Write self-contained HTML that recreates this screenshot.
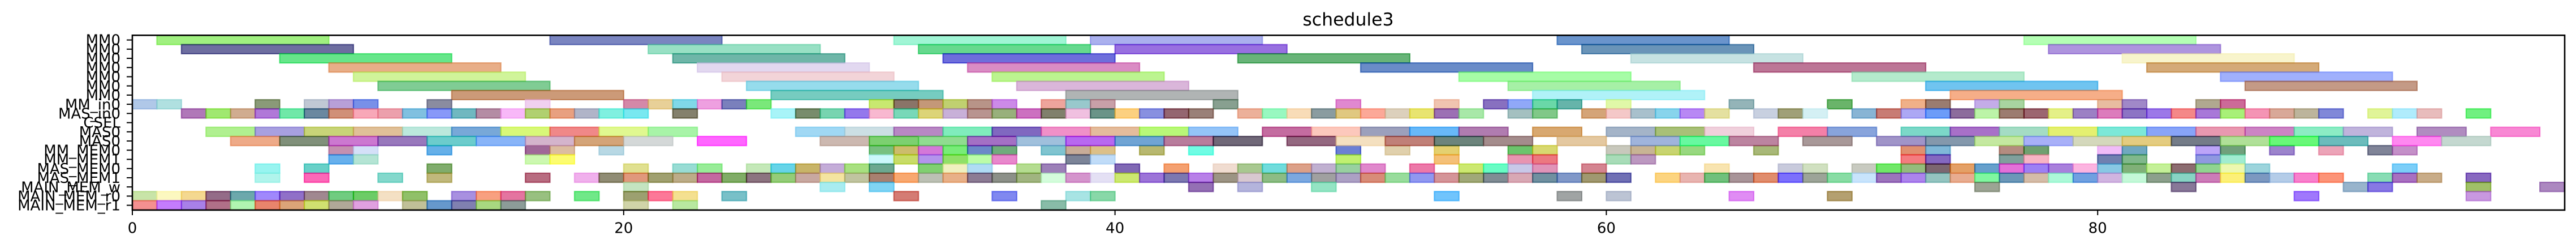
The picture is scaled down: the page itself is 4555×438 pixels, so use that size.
<!DOCTYPE html>
<html><head><meta charset="utf-8"><style>
html,body{margin:0;padding:0;background:#fff;width:4555px;height:438px;overflow:hidden}
svg{display:block}
text{font-family:"DejaVu Sans","Liberation Sans",sans-serif;fill:#000}
</style></head><body>
<svg id="s" width="4555" height="438" viewBox="0 0 4555 438" xmlns="http://www.w3.org/2000/svg">
<text x="2384" y="45" font-size="31.5" text-anchor="middle">schedule3</text>
<g id="bars" transform="translate(234,62.5) scale(43.44,16.22)"></g>
<rect x="234" y="62.3" width="4301" height="308.7" fill="none" stroke="#000" stroke-width="2.6"/>
<g stroke="#000" stroke-width="2">
<line x1="234" y1="371" x2="234" y2="380"/><line x1="1102.8" y1="371" x2="1102.8" y2="380"/><line x1="1971.6" y1="371" x2="1971.6" y2="380"/><line x1="2840.4" y1="371" x2="2840.4" y2="380"/><line x1="3709.2" y1="371" x2="3709.2" y2="380"/>
</g>
<g font-size="26" text-anchor="middle">
<text x="234" y="411.5">0</text><text x="1102.8" y="411.5">20</text><text x="1971.6" y="411.5">40</text><text x="2840.4" y="411.5">60</text><text x="3709.2" y="411.5">80</text>
</g>
<g id="yt" stroke="#000" stroke-width="2"></g>
<g font-size="26" text-anchor="end">
<text x="213" y="79.7">MM0</text>
<text x="213" y="95.9">MM0</text>
<text x="213" y="112.1">MM0</text>
<text x="213" y="128.4">MM0</text>
<text x="213" y="144.6">MM0</text>
<text x="213" y="160.8">MM0</text>
<text x="213" y="177.0">MM0</text>
<text x="213" y="193.3">MM_in0</text>
<text x="213" y="209.5">MAS_in0</text>
<text x="213" y="225.7">CSEL</text>
<text x="213" y="241.9">MAS0</text>
<text x="213" y="258.2">MAS0</text>
<text x="213" y="274.4">MM_MEM0</text>
<text x="213" y="290.6">MM_MEM1</text>
<text x="213" y="306.8">MAS_MEM0</text>
<text x="213" y="323.1">MAS_MEM1</text>
<text x="213" y="339.3">MAIN_MEM_w</text>
<text x="213" y="355.5">MAIN_MEM_r0</text>
<text x="213" y="371.7">MAIN_MEM_r1</text>
</g>
</svg>
<script>
var L={
0:[[1,7,'a0f080'],[17,7,'7a85c0'],[31,7,'a0f5d5'],[39,7,'aab0ee'],[58,7,'6a94cc'],[77,7,'b4ffb4']],
1:[[2,7,'6e6ea0'],[21,7,'98e0c4'],[32,7,'66d98e'],[40,7,'9870e0'],[59,7,'6a94b8'],[78,7,'ae94de']],
2:[[6,7,'66e68a'],[22,7,'6eb6a8'],[33,7,'6e6edc'],[45,7,'68b478'],[61,7,'c6e2e2'],[81,7,'f8f4cc']],
3:[[8,7,'e8ae88'],[23,7,'e2d8f0'],[34,7,'da8cc4'],[50,7,'6a8cc8'],[66,7,'bc7696'],[82,7,'d4aa78']],
4:[[9,7,'d0f49a'],[24,7,'f2d4d8'],[35,7,'bcf490'],[54,7,'a6fca6'],[70,7,'b4eacc'],[85,7,'a0b0fc']],
5:[[10,7,'80cc94'],[25,7,'96dcec'],[36,7,'dab6da'],[56,7,'a6f0a6'],[73,7,'70c4f0'],[86,7,'c49a86']],
6:[[13,7,'cc9a78'],[26,7,'76ccc0'],[38,7,'b0b4b4'],[57,7,'b0f2f8'],[74,7,'f6ae88']]
};
var S={
7:{0:'b0c8e8',1:'b0e0e0',5:'8a9a78',7:'c0c8d4',8:'b8a0d8',9:'7890e8',12:'8a8ca0',16:'f0d0f0',20:'d488a8',21:'e8d098',22:'80d8e8',23:'eea0e0',24:'7a80bc',25:'7ae87a',30:'c8e870',31:'8a7468',32:'c49878',33:'c0d070',34:'b89488',35:'cc8ae8',37:'eea49c',38:'98c8cc',39:'c8a0a8',44:'88a090',49:'e088d0',53:'f0c4b0',55:'8870c0',56:'90a8f8',57:'6ad8a8',58:'66b4aa',60:'e0f8a8',65:'94b4b8',69:'6ab46a',72:'f0b088',73:'9a7c70',75:'c4ace8',76:'a8d4a0',80:'e8bca0',81:'a088c8',84:'b0a890',85:'cc6a98'},
8:{2:'b078b8',3:'a0e870',4:'d0ac90',5:'b078d8',6:'70e8a8',7:'6a88a0',8:'d09078',9:'f8a8b8',10:'eca0ac',11:'80c0e0',12:'8898f8',13:'70b8c0',14:'b48ca4',15:'f8b8f8',16:'b0d070',17:'e8a080',18:'b0b4c8',19:'80f0e0',20:'78e8f0',22:'84806c',26:'a8f4f8',27:'788c6c',28:'78d4b0',29:'9478ec',30:'f8b8d0',31:'78d8b8',32:'dcd478',33:'c8b0d8',34:'b89490',35:'98b07c',36:'cc70c0',37:'80806c',38:'f0c0e0',39:'6a9488',40:'fcd080',41:'8890e0',42:'946470',43:'9a8078',45:'ecb09a',46:'98f8c0',47:'f8dcb8',48:'8a9ca0',49:'e0c880',50:'fca898',51:'dcd0bc',52:'e8e470',53:'9c70b4',54:'a8e8a8',56:'a4c0c0',57:'80c888',59:'d4a478',60:'f4c8c8',61:'a8c0cc',62:'88d4ec',63:'b888f4',64:'e4e0a0',66:'c8d0e0',67:'a0a078',68:'d4f0f4',70:'88b4d4',71:'c87c74',72:'aca8f4',73:'6c9cf8',74:'8c6c9c',75:'bcf4a8',76:'9c7c70',77:'9c6470',78:'e4f088',79:'9c80c4',80:'dc7cbc',81:'8c74c4',82:'9c78e8',83:'f48888',84:'a878d8',85:'a8f078',86:'f494b4',87:'d8a898',88:'bcb49c',89:'8088d8',91:'e0f498',92:'b0ecfc',93:'e8bcbc',95:'70f080'},
12:{8:'c490b0',9:'d4e0f8',12:'64b0e8',16:'a06898',17:'dcbca0',19:'b8d8e4',30:'78c080',31:'ccbc6c',32:'d478d8',33:'78ec78',34:'6c88c8',35:'70ac7c',37:'80c4d0',38:'c8ac98',39:'dcc088',41:'b8b870',43:'70fce4',49:'6c80d4',51:'e0d0ac',53:'e4d070',56:'6cc46c',57:'d8d870',60:'c8c8bc',61:'c8b494',62:'c8d470',63:'98d880',66:'a8b878',72:'e09070',73:'80b8d8',76:'b48c80',77:'70a070',80:'f0bcf8',81:'70a8c0',84:'bca4f8',85:'70a07c',87:'9c84cc',89:'eca4b8',91:'808498',92:'c490c8'},
13:{8:'68b0ec',9:'b4e4d4',16:'ccf8b0',17:'fcfc70',30:'ccf8fc',31:'c8dc68',32:'b494ec',33:'90e068',34:'bcfca8',35:'e888cc',38:'7c8498',39:'c0dcf8',49:'c0f070',53:'f4c078',56:'e894b0',57:'ec7880',60:'a8dcb8',61:'bc98c0',72:'f47c80',73:'8468c0',76:'80a09c',77:'f8b4c4',80:'7080b0',81:'80b88c',84:'9098e0',85:'a0ecd0'},
14:{5:'98f4f0',7:'68d0c8',12:'80ac6c',20:'e0e090',22:'98dcd4',23:'98ec98',25:'c4e8b8',26:'60d4e8',27:'c8b468',28:'c4acd8',29:'a8e080',30:'6ca890',32:'80d070',33:'f0f0c0',34:'b0dcf4',36:'b4dc90',37:'9c80b8',40:'8068b4',42:'f4a070',44:'f0dcd0',45:'a8c890',46:'70dcdc',47:'dca088',48:'c0b0d0',49:'98d0a0',50:'e088cc',52:'ec78a8',54:'cce870',55:'68fcc4',56:'c8c8e8',57:'e094b8',59:'d48490',64:'f8e4b0',67:'c8cadc',68:'d0e0c0',70:'c8cac0',71:'70e868',72:'94bc7c',73:'7c6470',74:'e4a060',75:'64a0cc',76:'e470d8',77:'9c80f4',78:'a880dc',79:'fcb4e0',80:'88c8e4',81:'80b078',82:'c4f098',83:'8c6c70',84:'90d490',85:'ecf8b0',86:'9cd4dc',92:'7ccef8'},
15:{5:'b0f4ec',7:'fc68b8',10:'84d8cc',12:'c0b87c',16:'b86c80',18:'f0b0ec',19:'908c74',20:'e0987c',21:'a0a070',22:'bcac88',23:'c468a0',24:'80ac60',25:'8c7480',26:'94cc78',27:'c8a8a0',28:'f4e4a0',29:'c0c4a0',30:'a88070',31:'f8a870',32:'bcc0b4',33:'e8b088',34:'8c7c94',35:'8c9088',36:'a0b480',37:'d4fcdc',38:'d494cc',39:'e4e0f4',40:'cce870',41:'9c74d8',42:'7c78b0',43:'b880e8',44:'9c9484',45:'d8c8d0',46:'8cbc84',47:'7ca8e0',48:'a0a0a0',49:'aca0c4',50:'d88c78',51:'98dc9c',52:'9098f0',53:'d49498',54:'a0a878',55:'808c94',56:'d8a8b4',57:'7090a0',58:'8098c8',59:'a09870',60:'7070b4',62:'fcd480',63:'e8b4b0',64:'70c07c',65:'a89498',66:'e08c6c',67:'7c70fc',68:'9ca498',69:'88dca4',70:'c8e4fc',71:'9c74bc',72:'ac84ec',73:'94c4c0',74:'e8ac90',75:'80f8a0',76:'6c98b8',77:'d4bca8',78:'acf8d8',79:'70a0e0',80:'d0b4e0',81:'c4f8d8',82:'8ca08c',83:'88d4c4',84:'cc7cb8',85:'fcf078',86:'7c98c0',87:'b4cce8',88:'f880cc',89:'fc9478',91:'88dcb4',92:'a870c0',93:'c8ac88',95:'8868c0'},
16:{20:'c4e4c0',28:'a8ecf0',30:'80d4f4',43:'9470b4',45:'b4b4dc',48:'94e4c4',75:'9ca494',83:'887898',90:'98b4cc',91:'8878e4',95:'a0c068',98:'ac88c0'},
17:{0:'c8e4a8',1:'fcf8c0',2:'f4d890',3:'946c88',4:'6ca8ac',5:'a088fc',6:'9070c8',7:'a08890',8:'70cc80',9:'6ccc64',10:'f4e0c4',11:'90c068',13:'a890e0',14:'f8a080',15:'e474a0',16:'98c080',18:'70e888',20:'9ca070',21:'fc7898',22:'f4e090',24:'78c0c8',31:'d47c74',35:'8088f0',38:'a8e4e4',39:'88d8a8',53:'70c4fc',58:'a0a4a4',60:'bcc4d4',65:'e08cf4',69:'b4a070',88:'a078fc',95:'c898e0'},
18:{0:'f49090',1:'c47cfc',2:'a880e8',3:'b07088',4:'b0f4b0',5:'e8846c',6:'dca478',7:'d0e070',8:'b0a898',9:'e0a0e0',11:'c0c098',12:'6498cc',13:'8080b0',14:'a8d880',15:'8c9c98',20:'d0d4a8',22:'b8e8a0',37:'88bca8'}
};
var D={
10:{3:'b0f090',5:'a8a0e0',7:'c8d478',9:'e0c098',11:'bce8dc',13:'78a8d8',15:'d8f878',17:'f08888',19:'e0f890',21:'a8f4a8',27:'a0d8f4',29:'ccdfe4',31:'b888c4',33:'80ecbc',35:'8068c0',37:'f090c8',39:'e4bc9c',41:'b8f878',43:'94c4f8',46:'c46ca0',48:'fcc8bc',50:'9ca0bc',52:'68b8f8',54:'b07cb0',57:'d8a870',60:'a4b4c8',62:'a8c078',64:'f0d0dc',67:'f480a8',69:'88a4dc',72:'7cd8c8',74:'a870c8',76:'a4dcc4',78:'e4f070',80:'7ce8d8',82:'88a4f8',84:'e898b0',86:'cc84c4',88:'8cecc4',90:'c0b4dc',93:'b08cc0',96:'f888d4'},
11:{4:'eeaa88',6:'80907a',8:'cc78d0',10:'9878bc',12:'6ccccc',14:'88b4f8',16:'d4b4cc',18:'d4a478',20:'d4d8d8',23:'ff66ff',28:'ccb8b0',30:'7cd070',32:'90dc90',34:'a470c4',36:'a0c0dc',38:'b868f0',40:'70a4d4',42:'b87c9c',44:'706878',47:'946880',49:'f4e0c0',51:'c08078',53:'6c847c',55:'a48c8c',58:'e4c8a0',61:'a0b4dc',63:'68f8a0',65:'bc84a0',68:'a89898',71:'a094c8',73:'8498ac',75:'c4e8a0',77:'a8b0f8',79:'d4d8bc',81:'e4cc80',83:'747c88',85:'b0e098',87:'68f878',89:'6cbcbc',92:'ff88f0',94:'c4d8d0'}
};
function base(h){var o='#';for(var i=0;i<3;i++){var v=parseInt(h.substr(i*2,2),16);v=Math.round((v-102)/0.6);v=Math.max(0,Math.min(255,v));o+=('0'+v.toString(16)).slice(-2);}return o;}
var g=document.getElementById('bars'),ns='http://www.w3.org/2000/svg';
function add(r,s,w,c){var e=document.createElementNS(ns,'rect');e.setAttribute('x',s);e.setAttribute('y',r);e.setAttribute('width',w);e.setAttribute('height',1);var b=base(c);e.setAttribute('fill',b);e.setAttribute('fill-opacity','0.6');e.setAttribute('stroke',b);e.setAttribute('stroke-opacity','0.6');e.setAttribute('stroke-width','2.2');e.setAttribute('vector-effect','non-scaling-stroke');g.appendChild(e);}
for(var r in L)L[r].forEach(function(a){add(+r,a[0],a[1],a[2]);});
for(var r in S)for(var k in S[r])add(+r,+k,1,S[r][k]);
for(var r in D)for(var k in D[r])add(+r,+k,2,D[r][k]);
var yt=document.getElementById('yt');
for(var i=0;i<19;i++){var y=62.5+16.22*(i+0.5);var l=document.createElementNS(ns,'line');l.setAttribute('x1',224);l.setAttribute('x2',234);l.setAttribute('y1',y);l.setAttribute('y2',y);yt.appendChild(l);}
</script>
</body></html>
